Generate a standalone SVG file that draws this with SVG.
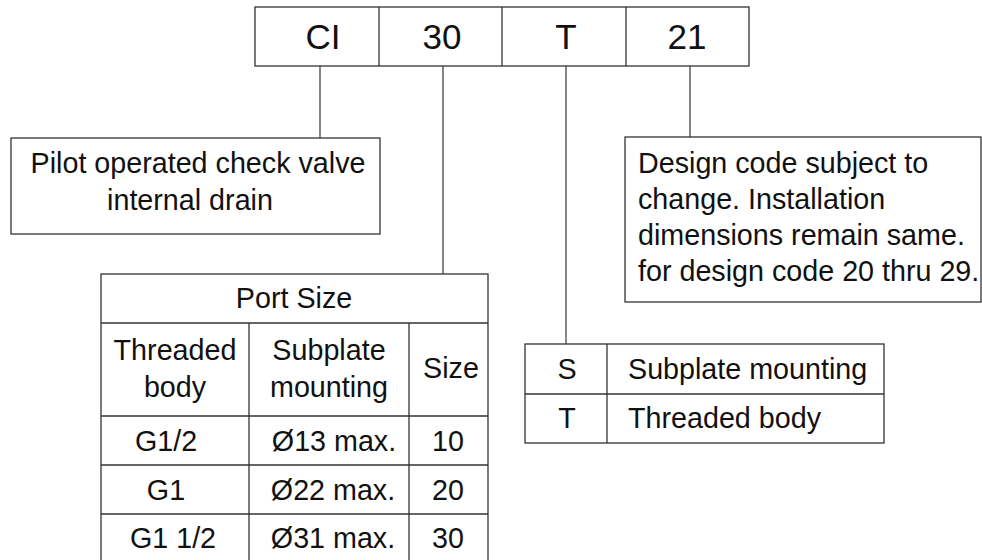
<svg xmlns="http://www.w3.org/2000/svg" width="982" height="560" viewBox="0 0 982 560">
<style>
.box{fill:#fff;stroke:#333;stroke-width:1.3}
.ln{fill:none;stroke:#444;stroke-width:1.3}
.t{font-family:"Liberation Sans",Arial,sans-serif;font-size:28.7px;fill:#111}
.big{font-size:35px}
.m{text-anchor:middle}
</style>
<rect width="982" height="560" fill="#fff"/>
<g id="connectors">
<line class="ln" x1="320" y1="66" x2="320" y2="138"/>
<line class="ln" x1="443" y1="66" x2="443" y2="274"/>
<line class="ln" x1="566" y1="66" x2="566" y2="344"/>
<line class="ln" x1="690" y1="66" x2="690" y2="137"/>
</g>
<g id="code">
<rect class="box" x="255" y="7" width="494" height="59"/>
<line class="box" x1="379" y1="7" x2="379" y2="66"/>
<line class="box" x1="502" y1="7" x2="502" y2="66"/>
<line class="box" x1="626" y1="7" x2="626" y2="66"/>
<text class="t big m" x="323" y="49">CI</text>
<text class="t big m" x="442" y="49">30</text>
<text class="t big m" x="566" y="49">T</text>
<text class="t big m" x="687" y="49">21</text>
</g>
<g id="ci">
<rect class="box" x="11" y="138" width="369" height="96"/>
<text class="t m" x="198" y="173">Pilot operated check valve</text>
<text class="t m" x="190" y="210">internal drain</text>
</g>
<g id="design">
<rect class="box" x="625" y="137" width="356" height="165"/>
<text class="t" x="638" y="173">Design code subject to</text>
<text class="t" x="638" y="209">change. Installation</text>
<text class="t" x="638" y="245">dimensions remain same.</text>
<text class="t" x="638" y="281">for design code 20 thru 29.</text>
</g>
<g id="port-size">
<rect class="box" x="101" y="274" width="387" height="292"/>
<line class="box" x1="101" y1="323" x2="488" y2="323"/>
<line class="box" x1="101" y1="416" x2="488" y2="416"/>
<line class="box" x1="101" y1="465" x2="488" y2="465"/>
<line class="box" x1="101" y1="514" x2="488" y2="514"/>
<line class="box" x1="249" y1="323" x2="249" y2="566"/>
<line class="box" x1="409" y1="323" x2="409" y2="566"/>
<text class="t m" x="294" y="308">Port Size</text>
<text class="t m" x="175" y="360">Threaded</text>
<text class="t m" x="175" y="397">body</text>
<text class="t m" x="329" y="360">Subplate</text>
<text class="t m" x="329" y="397">mounting</text>
<text class="t m" x="451" y="378">Size</text>
<text class="t m" x="166" y="451">G1/2</text>
<text class="t m" x="334" y="451">Ø13 max.</text>
<text class="t m" x="448" y="451">10</text>
<text class="t m" x="166" y="500">G1</text>
<text class="t m" x="333" y="500">Ø22 max.</text>
<text class="t m" x="448" y="500">20</text>
<text class="t m" x="173" y="548">G1 1/2</text>
<text class="t m" x="333" y="548">Ø31 max.</text>
<text class="t m" x="448" y="548">30</text>
</g>
<g id="mounting">
<rect class="box" x="525" y="344" width="359" height="99"/>
<line class="box" x1="525" y1="394" x2="884" y2="394"/>
<line class="box" x1="607" y1="344" x2="607" y2="443"/>
<text class="t m" x="567" y="379">S</text>
<text class="t m" x="567" y="428">T</text>
<text class="t" x="628" y="379">Subplate mounting</text>
<text class="t" x="628" y="428">Threaded body</text>
</g>
</svg>
